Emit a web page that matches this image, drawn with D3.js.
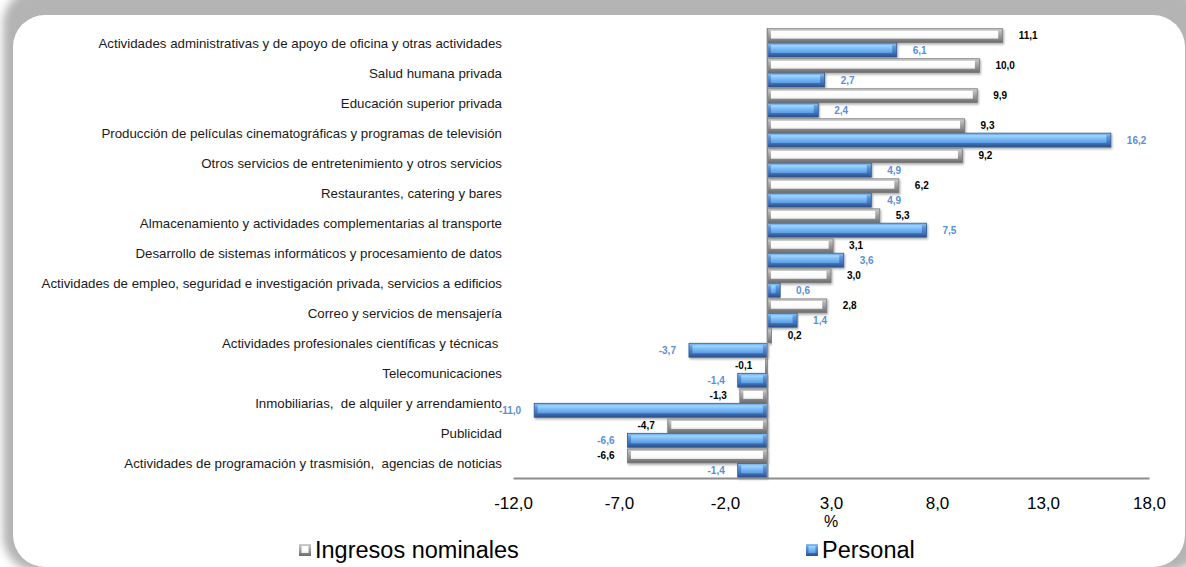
<!DOCTYPE html>
<html>
<head>
<meta charset="utf-8">
<script src="https://cdn.jsdelivr.net/npm/d3@7"></script>
<style>
    body { margin: 0; background: #fff; }
    svg { display: block; font-family: Arial, "Liberation Sans", sans-serif; }
</style>
</head>
<body>
<svg id="Chart"></svg>
<script>
const categories = [
    "Actividades administrativas y de apoyo de oficina y otras actividades",
    "Salud humana privada",
    "Educación superior privada",
    "Producción de películas cinematográficas y programas de televisión",
    "Otros servicios de entretenimiento y otros servicios",
    "Restaurantes, catering y bares",
    "Almacenamiento y actividades complementarias al transporte",
    "Desarrollo de sistemas informáticos y procesamiento de datos",
    "Actividades de empleo, seguridad e investigación privada, servicios a edificios",
    "Correo y servicios de mensajería",
    "Actividades profesionales científicas y técnicas ",
    "Telecomunicaciones",
    "Inmobiliarias,  de alquiler y arrendamiento",
    "Publicidad",
    "Actividades de programación y trasmisión,  agencias de noticias"
];
const ingresos = [11.1, 10.0, 9.9, 9.3, 9.2, 6.2, 5.3, 3.1, 3.0, 2.8, 0.2, -0.1, -1.3, -4.7, -6.6];
const personal = [6.1, 2.7, 2.4, 16.2, 4.9, 4.9, 7.5, 3.6, 0.6, 1.4, -3.7, -1.4, -11.0, -6.6, -1.4];
const seriesNames = ["Ingresos nominales", "Personal"];
const xTicks = [-12, -7, -2, 3, 8, 13, 18];

const width = 1186;
const height = 567;

const svg = d3.select("#Chart")
    .attr("width", width)
    .attr("height", height);

const fmt = v => v.toFixed(1).replace(".", ",");

function setupDefs() {
    const defs = svg.append("defs");

    defs.append("filter").attr("id", "panelShadow")
        .attr("x", "-5%").attr("y", "-10%").attr("width", "110%").attr("height", "120%")
        .append("feGaussianBlur").attr("stdDeviation", 4);

    let bs = defs.append("filter").attr("id", "barShadow")
        .attr("x", "-5%").attr("y", "-30%").attr("width", "110%").attr("height", "160%")
    bs.append("feDropShadow")
        .attr("dx", 1).attr("dy", 1.5).attr("stdDeviation", 1)
        .attr("flood-color", "#000").attr("flood-opacity", 0.35)

    function grad(id, stops) {
        let g = defs.append("linearGradient").attr("id", id)
            .attr("x1", 0).attr("y1", 0).attr("x2", 0).attr("y2", 1)
        stops.forEach(s => g.append("stop").attr("offset", s[0]).attr("stop-color", s[1]))
    }
    grad("grayEdge", [[0, "#cfcfcf"], [0.3, "#b0b0b0"], [0.7, "#8c8c8c"], [1, "#6a6a6a"]])
    grad("grayFace", [[0, "#ffffff"], [0.7, "#fbfbfb"], [1, "#ececec"]])
    grad("blueEdge", [[0, "#8cc4f7"], [0.3, "#5b95da"], [0.7, "#3f74bd"], [1, "#2a5089"]])
    grad("blueFace", [[0, "#a8dbff"], [0.4, "#80c0f8"], [1, "#5c9be4"]])
}

function drawBackground() {
    svg.append("rect")
        .attr("x", 3).attr("y", -12)
        .attr("width", 1200).attr("height", 584)
        .attr("rx", 36)
        .attr("fill", "#b4b4b4")
        .attr("filter", "url(#panelShadow)")

    svg.append("rect")
        .attr("x", 13).attr("y", 15)
        .attr("width", 1172).attr("height", 552)
        .attr("rx", 32)
        .attr("fill", "#fff")
}

function getConfig() {
    let margin = { top: 28, bottom: 89, left: 513, right: 37 }
    let bodyHeight = height - margin.top - margin.bottom
    let xScale = d3.scaleLinear()
        .domain([-12, 18])
        .range([margin.left, width - margin.right])
    let yScale = d3.scaleBand()
        .domain(categories)
        .range([margin.top, margin.top + bodyHeight])
        .paddingInner(0.03)
        .paddingOuter(0.01)
    let subScale = d3.scaleBand()
        .domain(seriesNames)
        .range([0, yScale.bandwidth()])
        .padding(0.03)
    return { margin, bodyHeight, xScale, yScale, subScale }
}

function drawBars(config) {
    let { xScale, yScale, subScale } = config
    let rows = categories.map((c, i) => [
        { cat: c, name: seriesNames[0], value: ingresos[i], edge: "grayEdge", face: "grayFace", stroke: "#7a7a7a", label: "#000" },
        { cat: c, name: seriesNames[1], value: personal[i], edge: "blueEdge", face: "blueFace", stroke: "#30598f", label: "#5b8fd8" }
    ]).flat()

    let bars = svg.append("g").selectAll(".bar")
        .data(rows)
        .enter().append("g")
        .attr("class", "bar")
        .attr("transform", d => `translate(0,${yScale(d.cat) + subScale(d.name)})`)

    let h = subScale.bandwidth()
    let x0 = d => xScale(Math.min(0, d.value))
    let w = d => Math.abs(xScale(d.value) - xScale(0))

    bars.append("rect")
        .attr("x", x0)
        .attr("y", 0)
        .attr("width", w)
        .attr("height", h)
        .attr("fill", d => `url(#${d.edge})`)
        .attr("stroke", d => d.stroke)
        .attr("stroke-width", 0.8)
        .attr("filter", "url(#barShadow)")

    // bevelled face
    bars.filter(d => w(d) > 9).append("rect")
        .attr("x", d => x0(d) + 3.5)
        .attr("y", 2)
        .attr("width", d => w(d) - 8)
        .attr("height", h - 6)
        .attr("fill", d => `url(#${d.face})`)

    bars.append("text")
        .attr("x", d => d.value >= 0 ? xScale(d.value) + 16 : xScale(d.value) - 13)
        .attr("y", h / 2)
        .attr("dy", "0.35em")
        .attr("text-anchor", d => d.value >= 0 ? "start" : "end")
        .attr("font-size", 10)
        .attr("font-weight", "bold")
        .attr("fill", d => d.label)
        .text(d => fmt(d.value))
}

function drawAxes(config) {
    let { xScale, yScale, margin, bodyHeight } = config
    let axisY = margin.top + bodyHeight

    svg.append("line")
        .attr("x1", xScale(0)).attr("x2", xScale(0))
        .attr("y1", margin.top).attr("y2", axisY)
        .attr("stroke", "#8c8c8c")
        .attr("stroke-width", 1.5)

    let axisX = d3.axisBottom(xScale)
        .tickValues(xTicks)
        .tickSize(0)
        .tickPadding(19)
        .tickFormat(fmt)

    let ax = svg.append("g")
        .attr("transform", `translate(0,${axisY})`)
        .call(axisX)
    ax.select(".domain").attr("stroke", "#8c8c8c").attr("stroke-width", 2)
    ax.selectAll("text")
        .attr("font-family", "Arial, 'Liberation Sans', sans-serif")
        .attr("font-size", 17)
        .attr("fill", "#000")

    svg.append("text")
        .attr("x", xScale(3))
        .attr("y", 527)
        .attr("text-anchor", "middle")
        .attr("font-size", 16)
        .text("%")

    svg.append("g").selectAll("text")
        .data(categories)
        .enter().append("text")
        .attr("x", 502)
        .attr("y", d => yScale(d) + yScale.bandwidth() / 2)
        .attr("dy", "0.35em")
        .attr("text-anchor", "end")
        .attr("font-size", 13.3)
        .attr("fill", "#1a1a1a")
        .style("white-space", "pre")
        .text(d => d)
}

function drawLegend() {
    let items = [
        { name: seriesNames[0], x: 299, edge: "grayEdge", face: "grayFace" },
        { name: seriesNames[1], x: 806, edge: "blueEdge", face: "blueFace" }
    ]
    let g = svg.append("g").selectAll("g")
        .data(items)
        .enter().append("g")
        .attr("transform", d => `translate(${d.x},544)`)

    g.append("rect")
        .attr("width", 12).attr("height", 12)
        .attr("fill", d => `url(#${d.edge})`)
    g.append("rect")
        .attr("x", 2.5).attr("y", 2).attr("width", 7).attr("height", 7)
        .attr("fill", d => `url(#${d.face})`)
    g.append("text")
        .attr("x", 16)
        .attr("y", 14)
        .attr("font-size", 23.5)
        .attr("fill", "#000")
        .text(d => d.name)
}

setupDefs();
drawBackground();
let config = getConfig();
drawBars(config);
drawAxes(config);
drawLegend();
</script>
</body>
</html>
